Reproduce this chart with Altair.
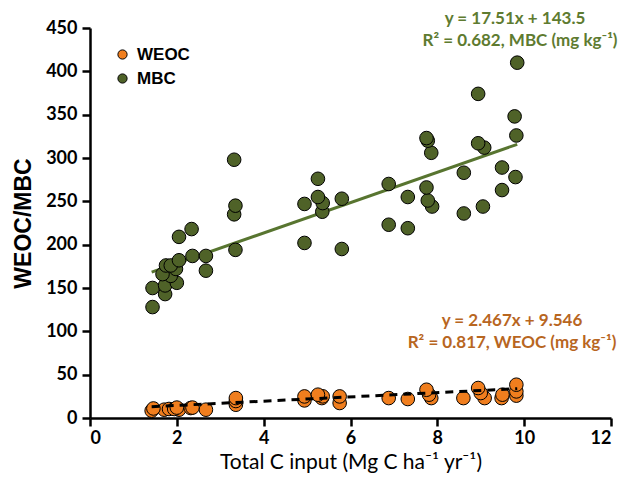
import altair as alt
import pandas as pd

# ---- data ----
mbc_x = [3.32, 5.25, 3.35, 3.32, 4.94, 5.25, 5.36, 5.35, 5.80, 2.34, 2.05, 3.35, 4.94, 5.80,
         2.36, 2.67, 2.05, 2.67, 1.75, 1.86, 1.98, 1.67, 1.86, 2.00, 1.44, 1.73, 1.73, 1.44,
         9.84, 8.94, 9.78, 9.82, 7.75, 7.78, 7.86, 8.94, 9.08, 6.88, 8.61, 9.49, 9.80,
         7.32, 7.75, 7.78, 7.88, 9.49, 9.05, 8.61, 6.88, 7.32]
mbc_y = [298, 276, 245, 235, 247, 255, 248, 238, 253, 218, 209, 194, 202, 195,
         187, 187, 182, 170, 176, 176, 172, 166, 164, 156, 150, 153, 143, 128,
         410, 374, 348, 326, 323, 320, 306, 317, 312, 270, 283, 289, 278,
         255, 266, 251, 244, 263, 244, 236, 223, 219]

weoc_x = [1.42, 1.46, 1.71, 1.82, 1.94, 2.05, 2.00, 2.32, 2.36, 2.67, 3.36, 3.36, 3.36,
          4.94, 4.94, 5.25, 5.34, 5.36, 5.75, 5.75,
          6.88, 7.32, 7.75, 7.81, 7.86, 8.60, 8.94, 9.00, 9.09, 9.48, 9.50, 9.82, 9.82, 9.82]
weoc_y = [8.4, 11, 9.6, 10.4, 10.4, 9.6, 12, 11.5, 12, 9.6, 23, 19.6, 15.3,
          24.9, 20.3, 26.9, 23, 25, 24.9, 17.3,
          23, 21.9, 32.6, 26.9, 23, 23, 34.6, 28.8, 23, 23, 26.9, 38.4, 30.7, 25.8]

series = ["WEOC", "MBC"]
colors = ["#F07E1E", "#4F6228"]
fit_slope = [2.467, 17.51]
fit_intercept = [9.546, 143.5]
fit_x_range = [1.42, 9.84]
x_ticks = [0, 2, 4, 6, 8, 10, 12]
y_ticks = [0, 50, 100, 150, 200, 250, 300, 350, 400, 450]

eq_mbc = ["y = 17.51x + 143.5", "R² = 0.682, MBC (mg kg⁻¹)"]
eq_weoc = ["y = 2.467x + 9.546", "R² = 0.817, WEOC (mg kg⁻¹)"]

# ---- tables ----
pts = pd.DataFrame({
    "x": weoc_x + mbc_x,
    "y": weoc_y + mbc_y,
    "series": ["WEOC"] * len(weoc_x) + ["MBC"] * len(mbc_x),
})

line_rows = []
for s, m, b in zip(series, fit_slope, fit_intercept):
    for xv in fit_x_range:
        line_rows.append({"series": s, "x": xv, "y": m * xv + b})
lines = pd.DataFrame(line_rows)

xscale = alt.Scale(domain=[0, 12], nice=False, zero=False)
yscale = alt.Scale(domain=[0, 450], nice=False)

x_axis = alt.Axis(values=x_ticks, grid=False, title="Total C input (Mg C ha⁻¹ yr⁻¹)",
                  titleFont="Lato", titleFontWeight="normal", titleFontSize=21,
                  titleColor="black", titlePadding=4)
y_axis = alt.Axis(values=y_ticks, grid=False, title="WEOC/MBC",
                  titleFont="Liberation Sans", titleFontWeight="bold", titleFontSize=23,
                  titleColor="black", titlePadding=10, labelPadding=5)

X = alt.X("x:Q", scale=xscale, axis=x_axis)
Y = alt.Y("y:Q", scale=yscale, axis=y_axis)

mbc_line = alt.Chart(lines).transform_filter(alt.datum.series == "MBC").mark_line(
    color="#587530", strokeWidth=3).encode(x=X, y=Y)

points = alt.Chart(pts).mark_point(
    filled=True, shape="circle", size=185, opacity=1, stroke="black", strokeWidth=1
).encode(
    x=X, y=Y,
    color=alt.Color("series:N", scale=alt.Scale(domain=series, range=colors),
                    legend=alt.Legend(orient="none", legendX=24, legendY=18, title=None,
                                      labelFont="Liberation Sans", labelFontWeight="bold",
                                      labelFontSize=17, labelColor="black",
                                      symbolType="circle", symbolSize=85,
                                      symbolStrokeColor="black", symbolStrokeWidth=1,
                                      rowPadding=6, labelOffset=6)),
    order=alt.Order("y:Q"),
)

weoc_line = alt.Chart(lines).transform_filter(alt.datum.series == "WEOC").mark_line(
    color="black", strokeWidth=3, strokeDash=[8, 6]).encode(x=X, y=Y)

one = pd.DataFrame({"k": [0]})

def label(txt, px, py, col):
    return alt.Chart(one).mark_text(
        font="Lato", fontWeight="bold", fontSize=17, color=col, align="center",
        baseline="middle"
    ).encode(x=alt.value(px), y=alt.value(py), text=alt.value(txt))

ann = [
    label(eq_mbc[0], 425, -9, "#5E7B30"),
    label(eq_mbc[1], 430, 13, "#5E7B30"),
    label(eq_weoc[0], 422, 293, "#B8661F"),
    label(eq_weoc[1], 422, 315, "#B8661F"),
]

chart = alt.layer(mbc_line, points, weoc_line, *ann).properties(
    width=521, height=390,
    padding={"left": 82, "top": 20, "right": 13, "bottom": 56},
    autosize=alt.AutoSizeParams(type="none"),
).configure_view(stroke=None).configure_axis(
    domainColor="black", domainWidth=2.5, tickColor="black", tickWidth=2.5, tickSize=8,
    labelFont="Lato", labelFontWeight="bold", labelFontSize=18, labelColor="black",
    labelPadding=3,
)

chart.save("out.html", embed_options={"renderer": "svg", "actions": False})
